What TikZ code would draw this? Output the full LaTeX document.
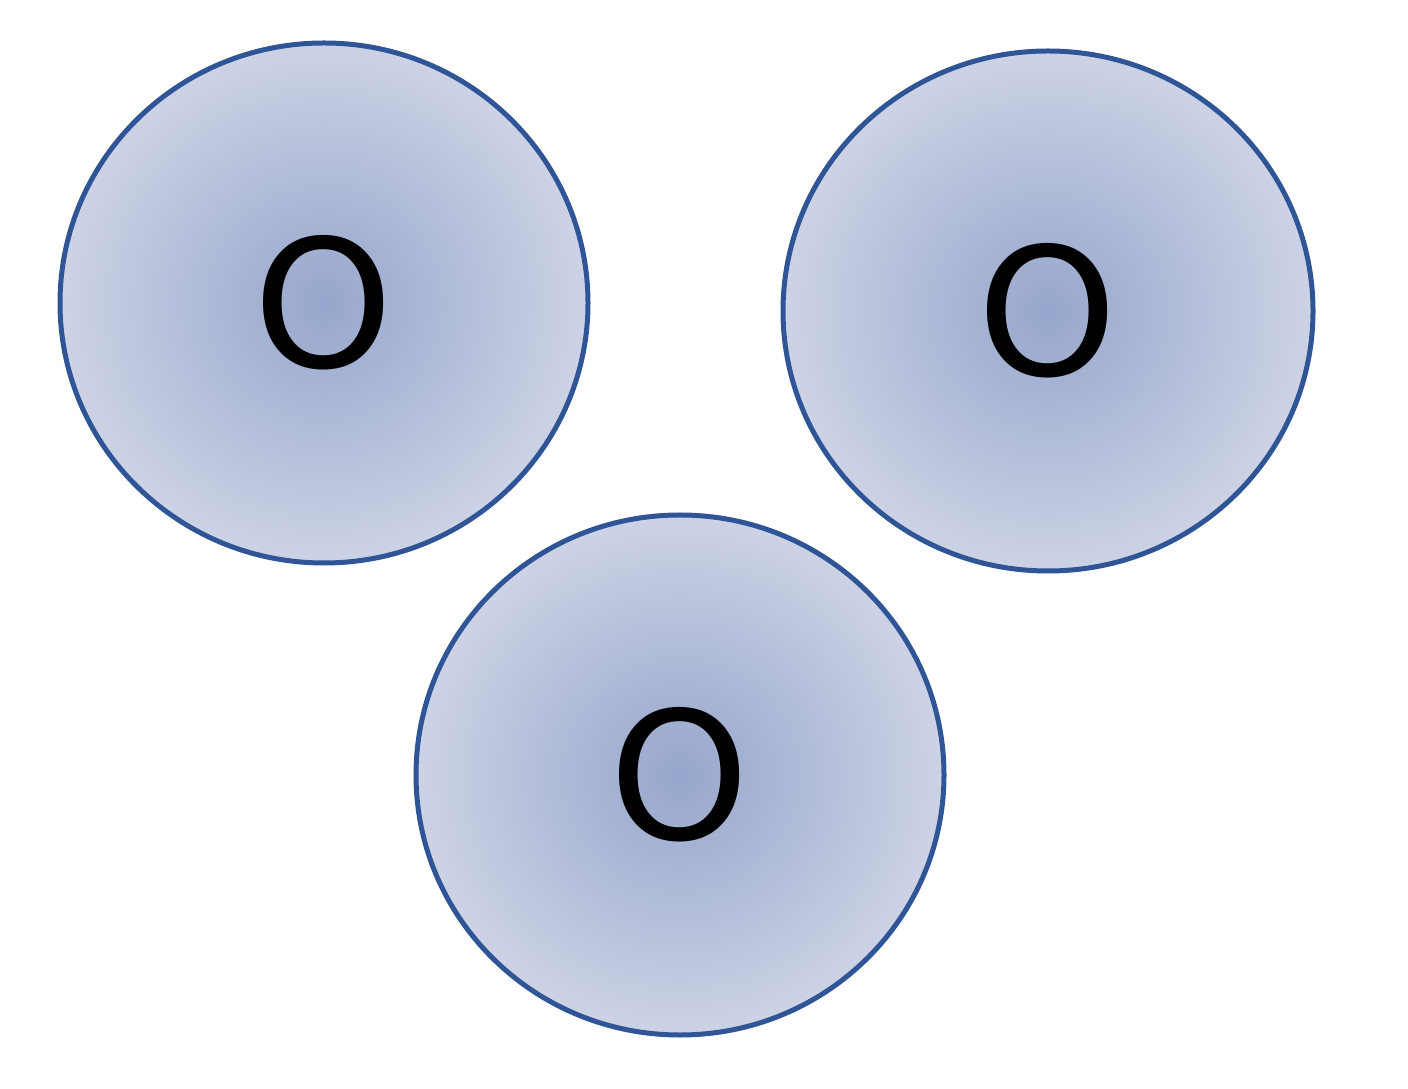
\documentclass[tikz,border=0pt]{standalone}
\usepackage{fontspec}
\setmainfont{DejaVu Sans}
\usetikzlibrary{shapes.geometric}
\definecolor{rim}{HTML}{2F5597}
\definecolor{core}{HTML}{96A6CC}
\definecolor{edge}{HTML}{CDD3E5}
\tikzset{
  ball/.style={ellipse, draw=rim, line width=5pt, inner color=core, outer color=edge,
    minimum width=528pt, minimum height=520pt, inner sep=0pt,
    font=\fontsize{178}{178}\selectfont, text=black}
}
\begin{document}
\begin{tikzpicture}[x=1pt,y=1pt]
\useasboundingbox (0,0) rectangle (1408,1088);
\node[ball] (a) at (324,785) {O};
\node[ball, minimum width=530pt] (b) at (1048,777) {O};
\node[ball] (c) at (680,313) {O};
\end{tikzpicture}
\end{document}
